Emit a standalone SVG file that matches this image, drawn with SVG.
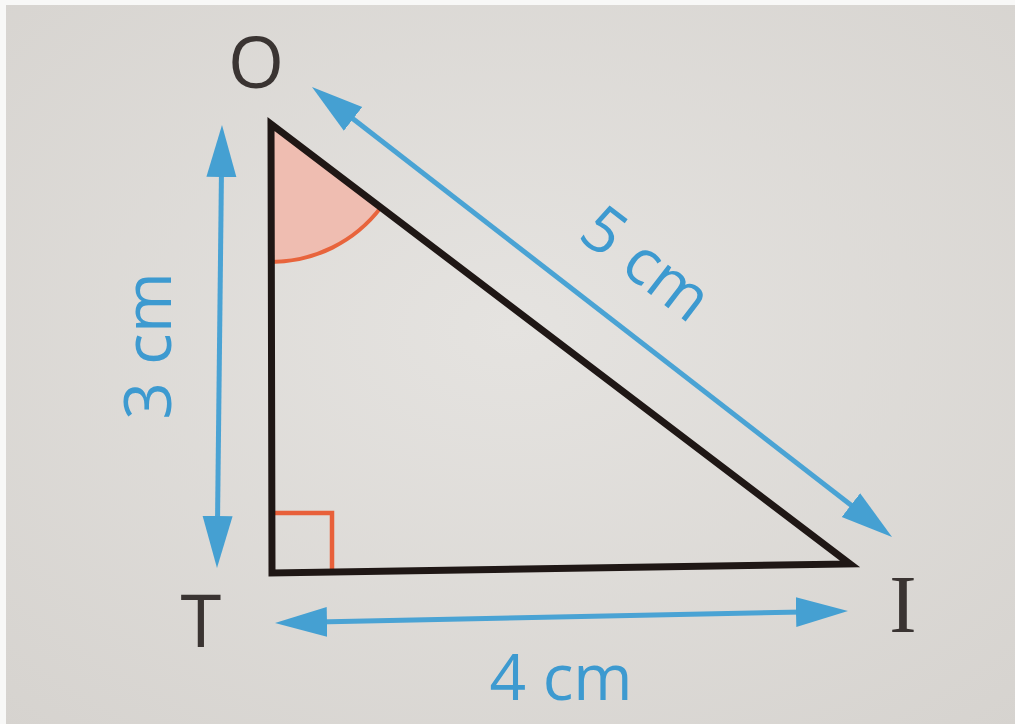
<svg xmlns="http://www.w3.org/2000/svg" width="1015" height="724" viewBox="0 0 1015 724">
  <defs>
    <radialGradient id="bg" cx="0.5" cy="0.45" r="0.75">
      <stop offset="0" stop-color="#e5e3e0"/>
      <stop offset="1" stop-color="#d6d3cf"/>
    </radialGradient>
    <marker id="ah" viewBox="0 0 52 32" refX="34" refY="16" markerWidth="52" markerHeight="32" markerUnits="userSpaceOnUse" orient="auto-start-reverse">
      <path d="M0,1 L52,16 L0,31 Z" fill="#45a0d2"/>
    </marker>
    <style>
      .dim { stroke: #4aa3d4; stroke-width: 5; fill: none; marker-start: url(#ah); marker-end: url(#ah); }
      .vlabel { font-family: "Open Sans", "Liberation Sans", sans-serif; fill: #3a3432; }
      .blabel { font-family: "Open Sans", "Liberation Sans", sans-serif; fill: #3d9ad0; font-size: 64px; text-anchor: middle; }
    </style>
  </defs>

  <rect x="0" y="0" width="1015" height="724" fill="#f8f8f7"/>
  <rect x="6" y="5" width="1009" height="719" fill="url(#bg)"/>

  <g id="angle-O">
    <path d="M271,124 L271,262 A138,138 0 0 0 380.9,207.4 Z" fill="#efbdb1"/>
    <path d="M271,262 A138,138 0 0 0 380.9,207.4" fill="none" stroke="#e8643c" stroke-width="4"/>
  </g>

  <g id="right-angle-T">
    <path d="M272,513 L332,513 L332,573" fill="none" stroke="#e8603a" stroke-width="4.5"/>
  </g>

  <g id="triangle">
    <path d="M271,124 L272,573 L850,564 Z" fill="none" stroke="#1f1715" stroke-width="7" stroke-linejoin="miter"/>
  </g>

  <g id="connectors">
    <line class="dim" x1="221.8" y1="143" x2="217.2" y2="550"/>
    <line class="dim" x1="293" y1="622.6" x2="830" y2="611.4"/>
    <line class="dim" x1="326.2" y1="98.1" x2="877.8" y2="525.9"/>
  </g>

  <g id="node-O"><text class="vlabel" x="256" y="88" font-size="72" text-anchor="middle">O</text></g>
  <g id="node-T"><text class="vlabel" x="201" y="647" font-size="74" text-anchor="middle">T</text></g>
  <g id="node-I"><text class="vlabel" x="903" y="632" font-size="82" text-anchor="middle" style="font-family:'Liberation Serif',serif">I</text></g>

  <g id="label-3cm"><text class="blabel" transform="translate(171,346) rotate(-90)" style="font-size:66px">3 cm</text></g>
  <g id="label-4cm"><text class="blabel" x="561" y="700">4 cm</text></g>
  <g id="label-5cm"><text class="blabel" transform="translate(633,281) rotate(37.5)">5 cm</text></g>
</svg>
